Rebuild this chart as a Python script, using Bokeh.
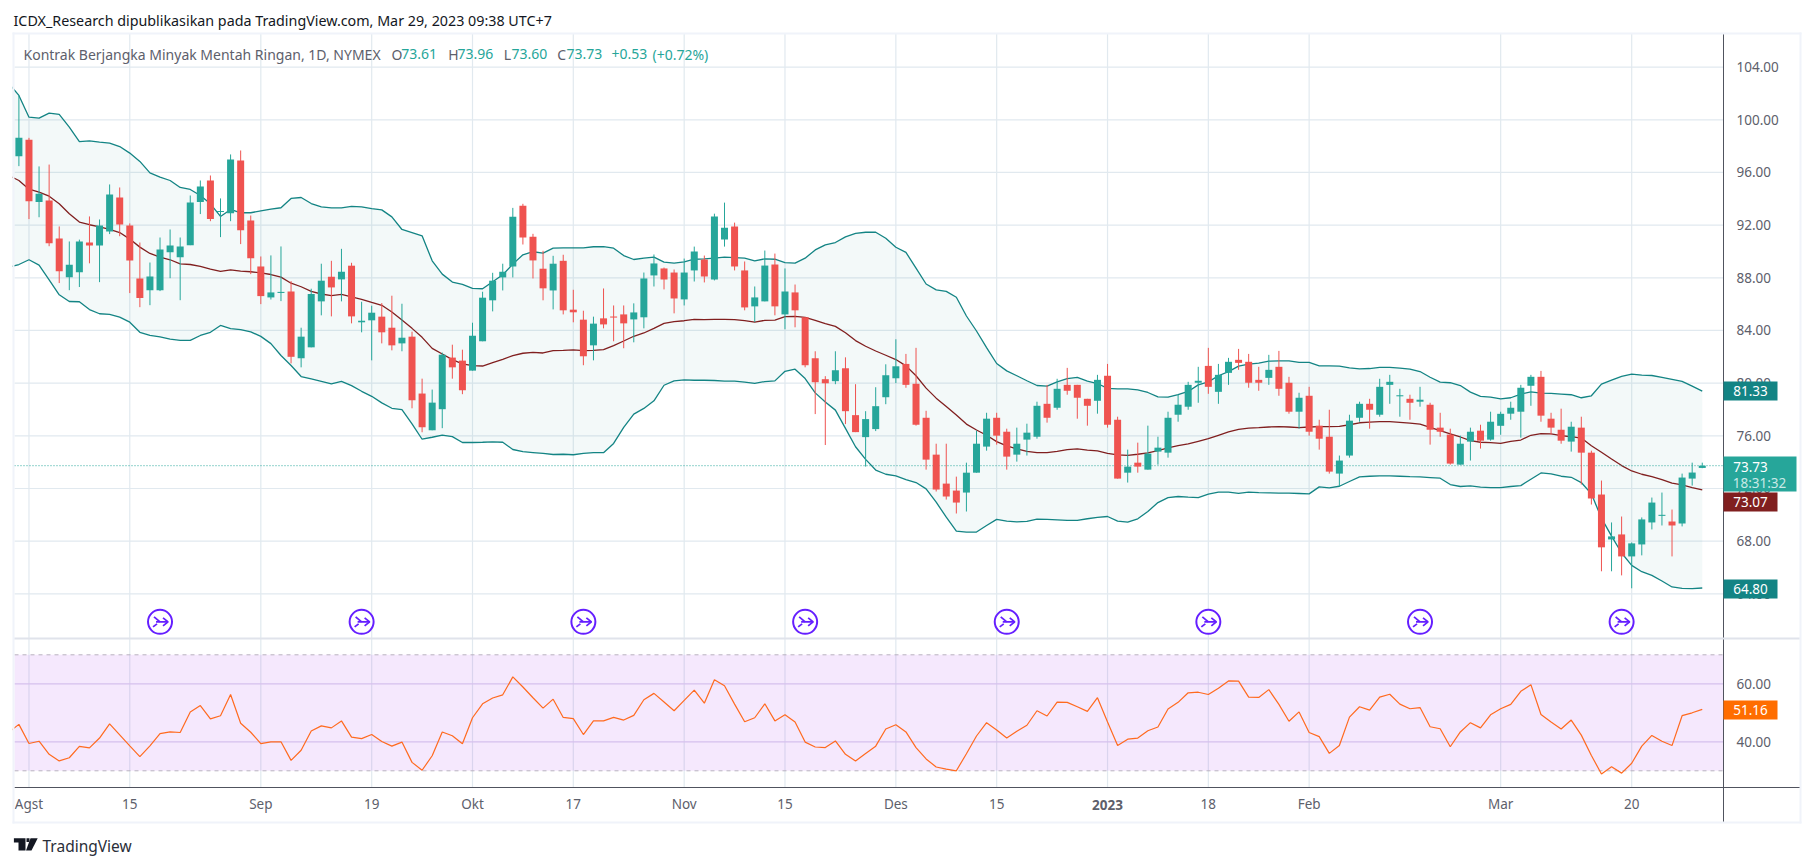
import numpy as np
from bokeh.embed import file_html
from bokeh.models import (BoxAnnotation, ColumnDataSource, FixedTicker, Label, LinearAxis,
                          NumeralTickFormatter, PolyAnnotation, Range1d)
from bokeh.plotting import figure
from bokeh.resources import INLINE

TITLE = "ICDX_Research dipublikasikan pada TradingView.com, Mar 29, 2023 09:38 UTC+7"
SYMBOL = "Kontrak Berjangka Minyak Mentah Ringan, 1D, NYMEX"

TICK_INDEX = [1, 11, 24, 35, 45, 55, 66, 76, 87, 97, 108, 118, 128, 147, 160]
TICK_TEXT = ["Agst", "15", "Sep", "19", "Okt", "17", "Nov", "15", "Des", "15", "2023", "18", "Feb", "Mar", "20"]
PRICE_TICKS = [64, 68, 72, 76, 80, 84, 88, 92, 96, 100, 104]
RSI_TICKS = [40, 60]
RSI_TOP = 70
RSI_BOTTOM = 30
LAST_PRICE = 73.73
ICON_BARS = [14, 34, 56, 78, 98, 118, 139, 159]
ICON_PRICE = 61.87

OPEN = [97.24,98.48,93.75,93.87,90.99,88.05,88.43,90.68,90.46,91.52,
94.1,91.97,87.95,87.06,87.06,89.95,89.57,90.48,93.75,95.39,
93.0,92.91,96.91,92.35,88.86,86.51,86.85,86.96,81.89,82.72,
86.21,88.08,87.88,88.92,84.62,84.77,85.05,84.21,83.02,83.53,
79.21,76.42,78.02,81.94,81.71,80.95,83.18,86.29,88.03,88.86,
93.47,91.12,88.69,87.04,89.29,85.58,84.82,82.87,84.92,85.06,
85.22,84.84,85.0,88.18,88.71,88.4,86.36,88.56,89.39,87.87,
90.9,91.89,88.56,85.83,86.21,89.01,85.22,86.89,85.0,81.89,
80.3,80.15,81.13,77.57,75.9,76.51,78.93,80.37,81.46,79.95,
77.37,74.57,72.37,71.84,71.69,73.2,75.18,77.37,76.31,74.57,
75.71,75.93,78.43,78.13,79.87,79.87,78.81,78.66,80.56,77.22,
73.2,73.96,73.43,74.8,74.72,77.6,78.21,80.03,81.31,79.34,
80.78,81.77,81.62,80.25,80.4,81.24,80.03,77.83,79.04,76.77,
75.93,73.13,74.5,77.37,78.43,77.6,79.87,79.0,78.81,78.59,
78.36,76.62,76.09,73.81,75.56,76.39,75.71,76.76,77.68,77.83,
79.8,80.48,77.3,76.46,75.56,76.62,74.72,71.54,68.13,68.51,
66.84,67.75,69.42,69.92,69.49,69.34,72.75,73.56]
HIGH = [101.85,98.63,96.46,96.6,91.9,90.76,90.9,92.66,92.43,95.09,
94.86,92.13,90.68,89.16,91.06,91.67,91.06,94.25,95.39,95.77,
94.03,97.37,97.67,92.73,89.62,89.7,90.38,87.75,84.21,87.17,
89.07,89.29,90.2,89.14,86.18,85.88,86.08,86.64,86.03,83.91,
80.34,79.51,82.32,82.92,82.54,84.59,86.94,88.38,89.07,93.31,
93.62,91.34,90.05,89.67,89.75,87.09,85.5,85.05,87.19,85.9,
85.9,86.06,88.4,89.77,88.78,88.63,89.46,90.37,89.69,92.87,
93.71,92.19,89.24,87.34,90.07,89.84,88.71,87.49,85.0,82.42,
80.53,82.42,81.96,79.92,77.87,79.69,81.43,83.33,82.22,82.68,
77.9,75.4,75.4,72.9,73.96,76.39,77.75,77.75,76.54,76.62,
76.92,78.59,79.87,80.33,81.16,79.87,78.81,80.63,81.46,77.45,
74.95,75.48,76.77,75.93,77.83,79.12,80.1,81.24,82.68,81.46,
81.92,82.6,82.22,81.24,82.15,82.45,80.48,79.27,79.72,77.22,
77.98,74.5,77.6,78.59,78.81,80.33,80.63,79.57,79.12,79.72,
78.51,77.75,76.54,76.01,76.62,76.84,77.83,77.83,78.59,79.87,
80.63,80.93,77.75,78.06,77.07,77.45,74.87,72.6,69.42,69.87,
67.9,69.8,71.31,71.69,70.4,73.13,73.96,73.96]
LOW = [96.48,92.46,92.6,90.4,87.6,87.06,87.3,89.1,87.67,91.32,
91.16,86.84,85.77,85.92,86.99,87.97,86.3,90.48,92.84,92.3,
91.09,92.3,90.56,88.28,86.0,86.35,86.23,81.5,81.2,82.72,
85.15,85.07,86.21,84.54,83.86,81.73,83.02,82.49,82.42,78.09,
76.27,76.42,76.58,80.34,79.16,80.95,83.18,85.45,87.04,88.03,
90.53,87.95,86.29,85.6,85.22,84.62,81.36,81.73,84.16,83.18,
82.65,83.1,84.16,87.34,87.12,85.3,85.9,87.72,87.65,87.8,
90.37,88.56,85.53,84.64,86.21,85.15,84.09,84.24,81.2,77.65,
75.3,79.92,76.89,76.28,73.66,76.36,78.4,80.0,79.65,76.77,
73.43,71.77,71.16,70.1,70.25,73.2,74.87,75.33,73.43,74.04,
74.5,75.78,77.0,77.98,79.12,77.3,76.77,77.68,76.62,72.75,
72.45,73.2,73.43,73.81,74.34,77.07,77.98,78.51,79.19,78.43,
79.87,81.01,79.65,79.42,79.87,79.04,77.68,76.54,76.01,74.95,
73.13,72.15,74.34,77.07,76.54,77.45,78.43,77.45,77.22,78.21,
75.33,75.93,73.81,73.81,74.12,75.03,75.63,76.08,77.22,75.86,
78.28,77.07,76.09,75.4,74.8,72.3,70.78,65.71,65.71,65.4,
64.42,66.92,68.89,69.19,66.84,69.12,72.22,73.54]
CLOSE = [98.63,93.82,94.38,90.63,88.5,89.0,90.76,90.46,91.97,94.33,
92.05,89.32,86.46,88.1,90.15,90.46,90.38,93.72,94.94,92.46,
93.08,96.99,91.62,89.49,86.61,86.89,86.93,82.0,83.53,86.77,
87.78,87.27,88.46,85.07,84.74,85.35,83.86,82.87,83.45,78.7,
76.65,78.52,82.16,81.2,79.46,83.6,86.49,87.78,88.46,92.63,
91.06,89.32,87.2,89.07,85.53,85.38,82.04,84.52,84.46,84.98,
84.54,85.37,87.95,89.09,87.87,86.43,88.4,90.0,88.1,92.65,
91.81,88.86,85.75,86.51,88.93,85.83,86.96,85.53,81.36,80.07,
79.99,80.98,77.87,76.28,77.27,78.25,80.6,81.28,79.87,76.84,
74.19,71.92,71.39,70.93,73.2,75.4,77.3,76.01,74.42,75.4,
76.24,78.28,77.37,79.57,79.42,78.89,78.28,80.25,76.84,72.75,
73.66,73.66,74.65,75.1,77.37,78.36,79.87,80.18,79.72,80.63,
81.62,81.54,80.03,80.03,81.01,79.57,77.83,78.89,76.31,75.78,
73.28,74.12,77.15,78.43,77.98,79.72,80.1,79.08,78.51,78.74,
76.46,76.31,73.89,75.4,76.31,75.63,77.07,77.67,78.13,79.65,
80.48,77.53,76.62,75.63,76.69,74.72,71.24,67.53,68.36,66.84,
67.83,69.65,70.93,70.0,69.19,72.83,73.21,73.73]

# Bollinger series start one bar before the first candle
UPPER = [102.76,101.85,100.2,100.13,100.51,100.41,99.44,98.35,98.4,98.3,98.23,
97.97,97.47,96.84,95.97,95.65,95.39,94.86,94.71,94.25,93.62,
92.66,93.19,92.94,92.94,93.09,93.22,93.32,94.03,94.1,93.64,
93.39,93.31,93.31,93.42,93.39,93.26,93.16,92.63,91.67,91.44,
91.19,89.29,88.28,87.68,87.5,87.2,87.17,87.7,88.23,89.04,
89.75,89.98,89.88,90.26,90.28,90.28,90.28,90.36,90.37,90.25,
89.69,89.39,89.49,89.57,89.19,89.11,89.21,89.41,89.44,89.49,
89.57,89.54,89.49,89.29,89.44,89.41,89.16,89.11,89.49,90.12,
90.5,90.68,91.11,91.38,91.46,91.46,91.0,90.32,89.93,88.74,
87.53,87.08,86.97,86.52,85.1,83.96,82.7,81.49,80.93,80.56,
80.18,79.82,79.77,80.1,80.35,80.43,80.15,79.97,79.6,79.57,
79.57,79.49,79.29,78.96,78.94,79.12,79.37,79.87,80.1,80.56,
80.88,81.29,81.44,81.52,81.67,81.69,81.69,81.57,81.57,81.31,
81.31,81.29,81.16,81.09,81.11,81.19,81.19,81.14,81.06,80.88,
80.45,80.08,80.03,79.82,79.32,78.99,78.94,78.81,78.89,79.17,
79.34,79.24,79.22,79.17,79.12,78.89,79.04,79.92,80.23,80.51,
80.68,80.61,80.58,80.43,80.28,80.13,79.77,79.39]
BASIS = [95.77,95.39,94.73,94.51,94.2,93.62,92.86,92.23,92.03,91.87,91.67,
91.44,90.94,90.33,89.85,89.57,89.37,89.06,89.01,88.86,88.66,
88.48,88.61,88.51,88.46,88.38,88.25,88.05,87.59,87.32,86.97,
86.77,86.64,86.74,86.56,86.36,86.13,85.91,85.4,84.79,84.16,
83.48,82.64,82.21,81.79,81.46,81.33,81.3,81.56,81.81,82.09,
82.27,82.34,82.29,82.47,82.49,82.52,82.47,82.49,82.55,82.85,
83.2,83.56,83.81,84.16,84.54,84.67,84.74,84.84,84.82,84.84,
84.84,84.82,84.74,84.64,84.77,84.79,85.05,85.07,85.0,84.77,
84.52,84.31,83.83,83.23,82.8,82.44,82.12,81.79,81.31,80.56,
79.62,78.86,78.23,77.58,76.89,76.44,76.04,75.56,75.23,75.0,
74.82,74.72,74.72,74.82,74.95,75.0,74.92,74.85,74.67,74.55,
74.52,74.6,74.7,74.87,75.08,75.25,75.38,75.58,75.78,76.04,
76.29,76.49,76.59,76.62,76.67,76.69,76.67,76.62,76.67,76.69,
76.69,76.72,76.84,76.99,77.04,77.07,77.07,77.02,76.97,76.89,
76.64,76.39,76.14,75.91,75.63,75.51,75.48,75.43,75.58,75.68,
76.04,76.16,76.14,76.01,75.93,75.83,75.25,74.75,74.24,73.74,
73.33,73.08,72.9,72.67,72.4,72.27,72.07,71.89]
LOWER = [88.81,89.01,89.37,88.96,87.85,86.71,86.2,86.18,85.59,85.27,85.22,
85.01,84.63,83.86,83.62,83.51,83.34,83.25,83.25,83.62,83.86,
84.38,84.14,84.07,83.9,83.55,83.0,82.1,81.34,80.5,80.32,
80.14,79.94,80.14,79.81,79.38,79.0,78.5,78.09,77.99,76.91,
75.74,75.89,76.05,75.94,75.49,75.49,75.51,75.54,75.51,74.96,
74.8,74.73,74.66,74.58,74.6,74.56,74.66,74.73,74.72,75.42,
76.64,77.65,78.08,78.66,79.84,80.17,80.25,80.22,80.22,80.2,
80.15,80.15,80.07,79.99,80.12,80.17,80.9,81.06,80.35,79.26,
78.56,77.95,76.56,75.17,74.21,73.4,73.08,72.95,72.68,72.45,
71.97,70.96,69.82,68.76,68.69,68.69,69.19,69.65,69.52,69.47,
69.5,69.67,69.65,69.62,69.57,69.57,69.7,69.8,69.87,69.52,
69.44,69.7,70.25,70.93,71.31,71.39,71.34,71.31,71.57,71.72,
71.72,71.62,71.72,71.69,71.67,71.64,71.64,71.62,71.59,72.12,
72.05,72.17,72.53,72.88,72.93,72.95,72.95,72.93,72.9,72.88,
72.83,72.78,72.3,72.15,72.2,72.1,72.07,72.07,72.15,72.22,
72.7,73.18,73.11,72.93,72.85,72.45,71.59,69.75,68.38,67.1,
66.16,65.68,65.4,64.97,64.52,64.42,64.39,64.44]
RSI = [43.3,46.0,39.4,40.2,35.7,33.4,34.5,38.4,37.9,41.3,46.2,
42.4,38.6,34.9,38.6,42.8,43.4,43.2,50.3,52.5,47.9,
49.0,56.3,46.4,43.3,39.4,40.0,40.0,33.6,37.1,43.7,
45.5,44.8,47.2,41.6,41.1,42.5,40.1,38.5,39.9,32.9,
30.2,35.2,43.4,42.1,39.3,48.3,53.1,55.1,56.2,62.4,
58.9,55.2,51.6,54.7,48.4,48.0,42.5,47.2,47.2,48.4,
47.5,49.1,54.5,56.7,53.7,50.7,54.3,57.8,53.3,61.4,
59.3,53.0,46.9,48.3,53.1,47.2,49.3,46.8,39.9,38.2,
38.0,40.3,35.7,33.4,36.0,38.5,44.4,45.9,43.4,38.0,
34.1,31.3,30.6,30.0,35.9,42.0,46.6,44.1,41.3,43.6,
45.7,50.7,48.9,53.7,53.6,52.1,50.5,55.2,46.8,38.7,
40.9,41.3,43.8,45.1,51.3,53.6,56.9,57.1,56.3,58.5,
61.0,60.9,55.4,55.3,58.0,52.9,47.1,50.3,43.2,41.8,
36.0,38.7,48.5,52.1,50.9,55.4,56.4,53.0,51.4,51.8,
45.2,44.5,38.3,43.4,46.6,44.8,49.3,51.4,52.9,57.4,
59.7,49.4,46.8,44.4,47.5,42.3,35.3,28.9,31.4,29.2,
32.6,38.5,42.2,40.2,38.7,49.0,50.0,51.16]

# ---- layout, in page pixels ----
PAGE = 0
W, H = 1805, 858
PANE_TOP, PANE_SPLIT, PANE_BOTTOM = 33, 638, 787
FRAME_LEFT, AXIS_X, RIGHT_EDGE, OUTER_BOTTOM = 14, 1723, 1800, 822
BAR_PX = 10.08
BAR0_X = 18.4

bar_at = lambda x: (x - BAR0_X) / BAR_PX
PX_PER_PRICE = 13.167
price_at = lambda y: 100 - (y - 119.3) / PX_PER_PRICE
rsi_at = lambda y: 70 - (y - 654.3) / 2.9

FONT = "Noto Sans"
GRID = "#e1e9ef"
AXIS = "#50535e"
TEXT = "#5d606b"
UP, DOWN = "#26a69a", "#ef5350"
BAND, MID = "#138484", "#801f1f"
ORANGE = "#ff6d00"
PURPLE = "#651fff"
EDGE = "#f0f3fa"

p = figure(width=W, height=H, x_range=Range1d(bar_at(PAGE), bar_at(PAGE + W)),
           y_range=Range1d(price_at(PAGE + H), price_at(PAGE)),
           y_axis_location="right", toolbar_location=None, output_backend="svg",
           min_border=0, outline_line_color=None)
p.extra_y_ranges = {"rsi": Range1d(rsi_at(PAGE + H), rsi_at(PAGE))}
p.grid.visible = False

# ---- axes (placed inside the single full-page frame) ----
ya = p.yaxis[0]
ya.ticker = FixedTicker(ticks=PRICE_TICKS)
ya.formatter = NumeralTickFormatter(format="0.00")
ya.fixed_location = bar_at(AXIS_X)
ya.bounds = (price_at(OUTER_BOTTOM), price_at(PANE_TOP))
ra = LinearAxis(y_range_name="rsi", ticker=FixedTicker(ticks=RSI_TICKS),
                formatter=NumeralTickFormatter(format="0.00"), fixed_location=bar_at(AXIS_X),
                axis_line_color=None)
p.add_layout(ra, "right")
for ax in (ya, ra):
    ax.major_tick_line_color = None
    ax.minor_tick_line_color = None
    ax.major_label_standoff = 7
    ax.major_label_text_font = FONT
    ax.major_label_text_font_size = "13.5px"
    ax.major_label_text_color = TEXT
ya.axis_line_color = AXIS

xa = p.xaxis[0]
xa.ticker = FixedTicker(ticks=TICK_INDEX)
xa.major_label_overrides = {i: ("" if t == "2023" else t) for i, t in zip(TICK_INDEX, TICK_TEXT)}
xa.fixed_location = price_at(PANE_BOTTOM)
xa.bounds = (bar_at(FRAME_LEFT), bar_at(RIGHT_EDGE))
xa.major_tick_line_color = None
xa.minor_tick_line_color = None
xa.axis_line_color = AXIS
xa.major_label_standoff = 1
xa.major_label_text_font = FONT
xa.major_label_text_font_size = "13.5px"
xa.major_label_text_color = TEXT

# ---- grid lines, limited to the panes ----
n = len(TICK_INDEX)
p.segment(TICK_INDEX, [price_at(PANE_TOP)] * n, TICK_INDEX, [price_at(PANE_BOTTOM)] * n,
          line_color=GRID, line_width=1.2, level="underlay")
p.segment([bar_at(FRAME_LEFT)] * len(PRICE_TICKS), PRICE_TICKS, [bar_at(AXIS_X)] * len(PRICE_TICKS), PRICE_TICKS,
          line_color=GRID, line_width=1.2, level="underlay")
p.segment([bar_at(FRAME_LEFT)] * 2, RSI_TICKS, [bar_at(AXIS_X)] * 2, RSI_TICKS, y_range_name="rsi",
          line_color="#ddd3ee", line_width=1.2, level="underlay")

# ---- price pane ----
band_x = np.arange(-1, len(CLOSE))
p.varea(band_x, LOWER, UPPER, fill_color=BAND, fill_alpha=0.05)
p.line(band_x, UPPER, line_color=BAND, line_width=1.3)
p.line(band_x, LOWER, line_color=BAND, line_width=1.3)
p.line(band_x, BASIS, line_color=MID, line_width=1.3)
p.segment([bar_at(FRAME_LEFT)], [LAST_PRICE], [bar_at(AXIS_X)], [LAST_PRICE], line_color=UP, line_dash="1 2", line_width=1)

idx = np.arange(len(CLOSE))
colors = [UP if c >= o else DOWN for o, c in zip(OPEN, CLOSE)]
src = ColumnDataSource(dict(x=idx, o=OPEN, h=HIGH, l=LOW, c=CLOSE, col=colors))
p.segment("x", "h", "x", "l", color="col", line_width=1, source=src)
p.vbar("x", 7 / BAR_PX, "o", "c", fill_color="col", line_color=None, source=src)

# session-break icons
px, py = 1 / BAR_PX, 1 / PX_PER_PRICE
icon_x = np.array(ICON_BARS, dtype=float)
icon_y = np.full(len(ICON_BARS), ICON_PRICE)
p.scatter(icon_x, icon_y, marker="circle", size=24, fill_color="white", line_color=PURPLE, line_width=2)
strokes = [[(-4, 0), (8, 0)], [(3, -4), (8, 0), (3, 4)], [(-7, 5), (-3, 2)], [(-6, -5), (0, 0)]]
xs, ys = [], []
for cx, cy in zip(icon_x, icon_y):
    for s in strokes:
        xs.append([cx + a * px for a, _ in s])
        ys.append([cy - b * py for _, b in s])
p.multi_line(xs, ys, line_color=PURPLE, line_width=1.8)

# ---- RSI pane ----
p.quad(left=[bar_at(FRAME_LEFT)], right=[bar_at(AXIS_X)], bottom=[RSI_BOTTOM], top=[RSI_TOP], y_range_name="rsi",
       fill_color="#a020f0", fill_alpha=0.1, line_color=None)
for lv in (RSI_TOP, RSI_BOTTOM):
    p.segment([bar_at(FRAME_LEFT)], [lv], [bar_at(AXIS_X)], [lv], y_range_name="rsi",
              line_color="#b8b2bf", line_dash="4 4", line_width=1)
p.line(band_x, RSI, line_color="#ff6a1f", line_width=1.2, y_range_name="rsi")


def cbox(l, t, r, b, color):
    p.add_layout(BoxAnnotation(left=l - PAGE, right=r - PAGE, top=t - PAGE, bottom=b - PAGE,
                               left_units="canvas", right_units="canvas", top_units="canvas", bottom_units="canvas",
                               fill_color=color, fill_alpha=1.0, line_color=None, level="overlay"))


def ctext(x, y, text, color=TEXT, size="13.5px", style="normal", align="left", font=FONT):
    p.add_layout(Label(x=x - PAGE, y=y - PAGE, x_units="canvas", y_units="canvas", text=text, text_color=color,
                       text_font=font, text_font_size=size, text_font_style=style, text_align=align,
                       text_baseline="middle", level="overlay"))


# hide what runs left of the pane, then the outer light frame
cbox(PAGE, 34, 12, 822, "white")
cbox(12, 32, RIGHT_EDGE + 1, 34, EDGE)
cbox(12, 32, 14, OUTER_BOTTOM + 1, EDGE)
cbox(RIGHT_EDGE - 1, 32, RIGHT_EDGE + 1, OUTER_BOTTOM + 1, EDGE)
cbox(12, OUTER_BOTTOM - 1, RIGHT_EDGE + 1, OUTER_BOTTOM + 1, EDGE)
cbox(14, PANE_SPLIT - 1, RIGHT_EDGE - 1, PANE_SPLIT + 1, "#e0e3eb")

# header texts
ctext(13, 20, TITLE, color="#131722", size="14.3px")
ctext(23, 53.5, SYMBOL, size="14px")
for x, t, c in [(391, "O", TEXT), (400.7, "73.61", UP), (447.7, "H", TEXT), (457, "73.96", UP), (503.2, "L", TEXT),
                (511, "73.60", UP), (556.8, "C", TEXT), (566, "73.73", UP), (611, "+0.53", UP), (652, "(+0.72%)", UP)]:
    ctext(x, 53.5, t, color=c, size="14px")

# price tags
for y0, y1, bg, t, yc in [(381, 400, BAND, "81.33", 390.5), (492, 511, MID, "73.07", 501.5), (579, 598, BAND, "64.80", 588.5)]:
    cbox(AXIS_X, y0, 1777, y1, bg)
    ctext(1750, yc, t, color="white", size="13.5px", align="center")
cbox(AXIS_X, 456, 1796, 491, UP)
ctext(1750, 466, "73.73", color="white", size="13.5px", align="center")
ctext(1759, 482, "18:31:32", color="#c9e9e6", size="13.5px", align="center")
cbox(AXIS_X, 700, 1777, 719, ORANGE)
ctext(1750, 709.5, "51.16", color="white", size="13.5px", align="center")

# bold year tick
ctext(TICK_INDEX[10] * BAR_PX + BAR0_X, 804, "2023", color=TEXT, style="bold", align="center")


# TradingView logo
def cpoly(pts, color):
    p.add_layout(PolyAnnotation(xs=[a - PAGE for a, _ in pts], ys=[b - PAGE for _, b in pts], xs_units="canvas", ys_units="canvas",
                                fill_color=color, fill_alpha=1, line_color=None, level="overlay"))


INK = "#131722"
cpoly([(13.4, 837.7), (25, 837.7), (25, 850), (18, 850), (18, 842), (13.4, 842)], INK)
cpoly([(26, 837.7), (29, 837.7), (29, 841.5), (26, 841.5)], INK)
cpoly([(30, 837.7), (37.2, 837.7), (31, 850), (25.5, 850)], INK)
ctext(42, 845, "TradingView", color="#2a2e39", size="15.5px")

open("out.html", "w").write(file_html(p, INLINE))
